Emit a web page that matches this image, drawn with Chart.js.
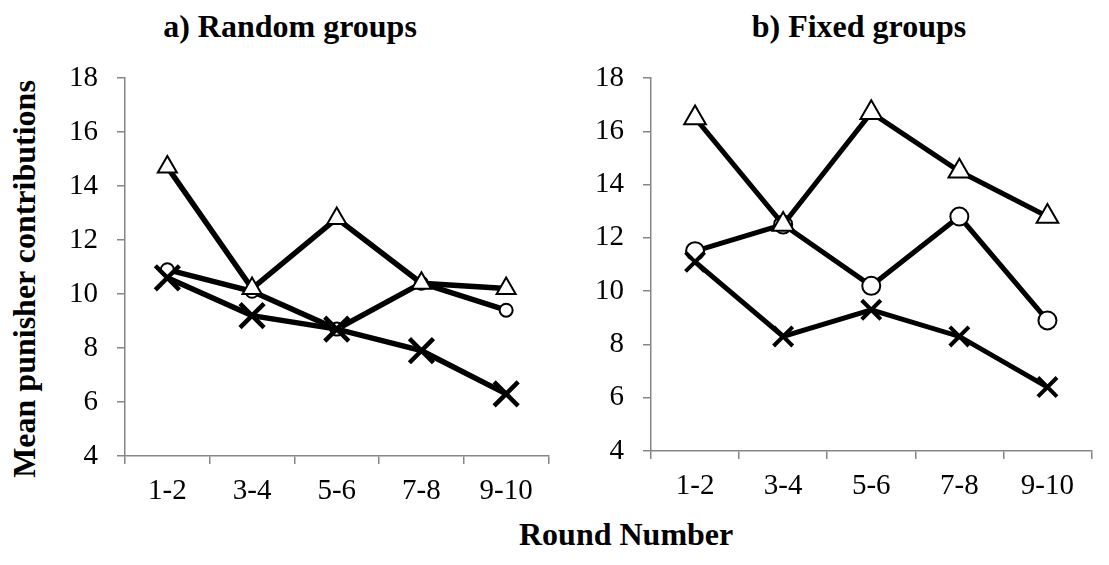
<!DOCTYPE html>
<html>
<head>
<meta charset="utf-8">
<script src="https://cdn.jsdelivr.net/npm/chart.js@4/dist/chart.umd.min.js"></script>
<style>
  html, body { margin:0; padding:0; background:#fff; }
  body { width:1109px; height:565px; position:relative; overflow:hidden; font-family:"Liberation Serif", "Times New Roman", serif; }
  canvas { position:absolute; }
  .t { position:absolute; font-weight:bold; font-size:32px; line-height:32px; white-space:nowrap; color:#000; }
  .pre { position:absolute; left:-9999px; top:0; font-family:"Liberation Serif"; font-size:29px; }
</style>
</head>
<body>
<span class="pre">0123456789-</span>
<div class="t" id="ta" style="left:290px; top:10px; transform:translateX(-50%);">a) Random groups</div>
<div class="t" id="tb" style="left:859px; top:10px; transform:translateX(-50%);">b) Fixed groups</div>
<div class="t" id="ty" style="left:24px; top:279px; transform:translate(-50%,-50%) rotate(-90deg);">Mean punisher contributions</div>
<div class="t" id="tx" style="left:519px; top:518px;">Round Number</div>
<canvas id="cA" width="530" height="506" style="left:40px; top:0px;"></canvas>
<canvas id="cB" width="543" height="501" style="left:566px; top:0px;"></canvas>
<script>
const categories = ["1-2", "3-4", "5-6", "7-8", "9-10"];
const randomTriangle = [14.7, 10.2, 12.8, 10.4, 10.2];
const randomCircle   = [10.9, 10.1, 8.7, 10.4, 9.4];
const randomCross    = [10.6, 9.2, 8.7, 7.9, 6.3];
const fixedTriangle  = [16.5, 12.5, 16.7, 14.5, 12.8];
const fixedCircle    = [11.5, 12.5, 10.2, 12.8, 8.9];
const fixedCross     = [11.1, 8.3, 9.3, 8.3, 6.4];
const yMin = 4, yMax = 18, yStep = 2;

const AXIS = '#868686';
const FONT = '"Liberation Serif", serif';

function ds(data, style, radius, order, bw, lw) {
  return {
    data: data,
    borderColor: '#000',
    borderWidth: lw,
    tension: 0,
    pointStyle: style,
    pointRadius: radius,
    pointHoverRadius: radius,
    pointBackgroundColor: '#fff',
    pointBorderColor: '#000',
    pointBorderWidth: bw,
    order: order
  };
}

function makeChart(id, tri, circ, cross, sizes, padRight) {
  new Chart(document.getElementById(id), {
    type: 'line',
    data: {
      labels: categories,
      datasets: [
        ds(cross, 'crossRot', sizes.x, 0, sizes.xw, sizes.lw),
        ds(tri, 'triangle', sizes.t, 1, 2, sizes.lw),
        ds(circ, 'circle', sizes.c, 2, 2, sizes.lw)
      ]
    },
    options: {
      responsive: false,
      animation: false,
      devicePixelRatio: 1,
      layout: { padding: { top: 78, right: padRight, left: 0, bottom: 0 } },
      plugins: { legend: { display: false }, tooltip: { enabled: false }, title: { display: false } },
      scales: {
        x: {
          type: 'category',
          offset: true,
          grid: { offset: true, drawOnChartArea: false, drawTicks: true, tickLength: 8, color: AXIS, lineWidth: 1.5 },
          border: { display: true, color: AXIS, width: 1.5 },
          ticks: { color: '#000', padding: 10, font: { family: FONT, size: 29 }, maxRotation: 0, autoSkip: false },
          afterFit: function(s) { s.height = 50; }
        },
        y: {
          min: yMin, max: yMax,
          grid: { drawOnChartArea: false, drawTicks: true, tickLength: 8, color: AXIS, lineWidth: 1.5 },
          border: { display: true, color: AXIS, width: 1.5 },
          ticks: { stepSize: yStep, color: '#000', padding: 19, font: { family: FONT, size: 29 } },
          afterFit: function(s) { s.width = 85; }
        }
      }
    }
  });
}

Chart.defaults.font.family = FONT;

function draw() {
  makeChart('cA', randomTriangle, randomCircle, randomCross, { t: 11, c: 6.5, x: 17, xw: 4.5, lw: 5.5 }, 7.5);
  makeChart('cB', fixedTriangle, fixedCircle, fixedCross, { t: 12.5, c: 9, x: 13.5, xw: 4, lw: 5 }, 14.5);
}

let done = false;
function go() { if (!done) { done = true; draw(); } }
if (document.fonts && document.fonts.load) {
  document.fonts.load('29px "Liberation Serif"').then(go, go);
  setTimeout(go, 1500);
} else {
  go();
}
</script>
</body>
</html>
